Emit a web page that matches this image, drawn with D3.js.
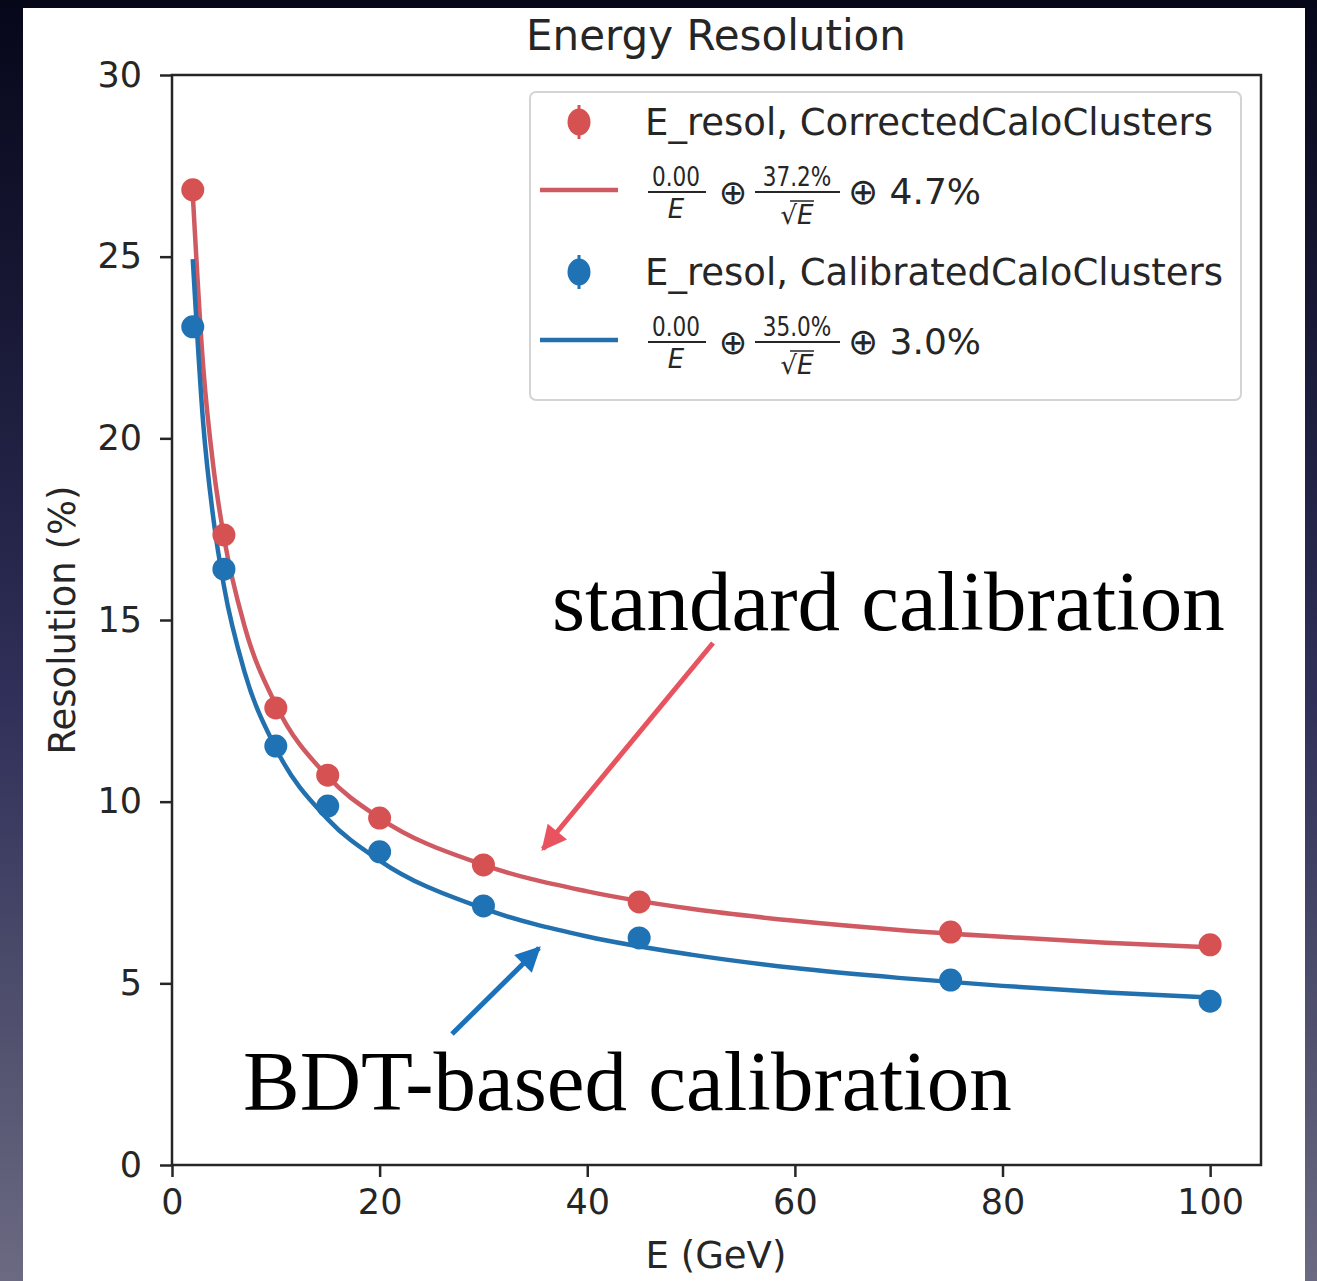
<!DOCTYPE html>
<html><head><meta charset="utf-8">
<script src="https://cdn.jsdelivr.net/npm/d3@7"></script>
<style>
html,body{margin:0;padding:0;}
body{width:1317px;height:1281px;overflow:hidden;background:linear-gradient(180deg,#07071a 0%,#1c1c3c 30%,#30305a 55%,#50506e 80%,#6c6a82 100%);}
svg{position:absolute;left:0;top:0;}
</style></head><body>
<svg id="c" width="1317" height="1281"></svg>
<script>
// ---- data ----
const energies = [2, 5, 10, 15, 20, 30, 45, 75, 100];
const correctedRes = [26.84, 17.34, 12.58, 10.73, 9.55, 8.26, 7.24, 6.41, 6.06];
const calibratedRes = [23.07, 16.40, 11.53, 9.88, 8.62, 7.13, 6.25, 5.09, 4.51];
const fitE = [2, 3, 4, 5, 7, 10, 15, 20, 30, 40, 50, 60, 70, 80, 90, 100];
const correctedFit = [26.72, 21.99, 19.18, 17.29, 14.82, 12.67, 10.69, 9.55, 8.26, 7.53, 7.05, 6.72, 6.47, 6.28, 6.12, 5.99];
const calibratedFit = [24.93, 20.43, 17.76, 15.94, 13.56, 11.47, 9.52, 8.38, 7.06, 6.29, 5.79, 5.42, 5.15, 4.93, 4.75, 4.61];
const xTicks = [0, 20, 40, 60, 80, 100];
const yTicks = [0, 5, 10, 15, 20, 25, 30];
const legendLabels = ["E_resol, CorrectedCaloClusters", "E_resol, CalibratedCaloClusters"];
const fitParams = [{stoch: "37.2%", cst: "4.7%"}, {stoch: "35.0%", cst: "3.0%"}];

const RED = "#d65252", RED_LINE = "#cf5a62", BLUE = "#1f72b4", BLUE_LINE = "#2270ad";
const svg = d3.select("#c");
const sans = "'DejaVu Sans', sans-serif";
const INK = "#262626";

// white panel
svg.append("rect").attr("x", 23).attr("y", 8).attr("width", 1282).attr("height", 1273).attr("fill", "#fff");

const L = 172, R = 1261, T = 75, B = 1165;
const x = d3.scaleLinear().domain([0, 104.9]).range([L, R]);
const y = d3.scaleLinear().domain([0, 30]).range([B, T]);

// curves
const line = d3.line().x(d => x(d[0])).y(d => y(d[1])).curve(d3.curveMonotoneX);
svg.append("path").datum(fitE.map((e, i) => [e, correctedFit[i]])).attr("d", line)
  .attr("fill", "none").attr("stroke", RED_LINE).attr("stroke-width", 4.5);
svg.append("path").datum(fitE.map((e, i) => [e, calibratedFit[i]])).attr("d", line)
  .attr("fill", "none").attr("stroke", BLUE_LINE).attr("stroke-width", 4.5);

// points
svg.append("g").selectAll("circle").data(energies).join("circle")
  .attr("cx", d => x(d)).attr("cy", (d, i) => y(correctedRes[i])).attr("r", 11.5).attr("fill", RED);
svg.append("g").selectAll("circle").data(energies).join("circle")
  .attr("cx", d => x(d)).attr("cy", (d, i) => y(calibratedRes[i])).attr("r", 11.5).attr("fill", BLUE);

// axes frame
svg.append("rect").attr("x", L).attr("y", T).attr("width", R - L).attr("height", B - T)
  .attr("fill", "none").attr("stroke", INK).attr("stroke-width", 2.5);

const xAxis = svg.append("g").attr("transform", `translate(0,${B})`)
  .call(d3.axisBottom(x).tickValues(xTicks).tickSize(12).tickPadding(12));
const yAxis = svg.append("g").attr("transform", `translate(${L},0)`)
  .call(d3.axisLeft(y).tickValues(yTicks).tickSize(12).tickPadding(18));
[xAxis, yAxis].forEach(a => {
  a.select(".domain").remove();
  a.selectAll(".tick line").attr("stroke", INK).attr("stroke-width", 2.5);
  a.selectAll(".tick text").attr("font-family", sans).attr("font-size", 35).attr("fill", INK);
});

// titles
svg.append("text").attr("x", 716).attr("y", 50).attr("text-anchor", "middle")
  .attr("font-family", sans).attr("font-size", 42).attr("fill", INK).text("Energy Resolution");
svg.append("text").attr("x", 716).attr("y", 1268).attr("text-anchor", "middle")
  .attr("font-family", sans).attr("font-size", 37).attr("fill", INK).text("E (GeV)");
svg.append("text").attr("transform", "translate(75,620) rotate(-90)").attr("text-anchor", "middle")
  .attr("font-family", sans).attr("font-size", 37).attr("fill", INK).text("Resolution (%)");

// legend
const lg = svg.append("g");
lg.append("rect").attr("x", 530).attr("y", 92).attr("width", 711).attr("height", 308).attr("rx", 6)
  .attr("fill", "#fff").attr("fill-opacity", 0.85).attr("stroke", "#d4d4d4").attr("stroke-width", 2);
const rowsY = [122, 272];
const colors = [RED, BLUE], lcolors = [RED_LINE, BLUE_LINE];
legendLabels.forEach((lab, i) => {
  const cy = rowsY[i];
  lg.append("line").attr("x1", 579).attr("x2", 579).attr("y1", cy - 17).attr("y2", cy + 17)
    .attr("stroke", colors[i]).attr("stroke-width", 3);
  lg.append("ellipse").attr("cx", 579).attr("cy", cy).attr("rx", 11.5).attr("ry", 13.5).attr("fill", colors[i]);
  lg.append("text").attr("x", 645).attr("y", cy + 13).attr("font-family", sans).attr("font-size", 37)
    .attr("fill", INK).text(lab);
  const fy = cy + 70; // fraction bar y
  lg.append("line").attr("x1", 540).attr("x2", 618).attr("y1", fy - 2).attr("y2", fy - 2)
    .attr("stroke", lcolors[i]).attr("stroke-width", 4.5);
  const ft = lg.append("g").attr("font-family", sans).attr("fill", INK);
  // 0.00 / E
  ft.append("text").attr("x", 676).attr("y", fy - 6).attr("text-anchor", "middle").attr("font-size", 27)
    .attr("transform", `translate(676,${fy - 6}) scale(0.8,1) translate(-676,${-(fy - 6)})`).text("0.00");
  ft.append("line").attr("x1", 648).attr("x2", 706).attr("y1", fy).attr("y2", fy).attr("stroke", INK).attr("stroke-width", 2);
  ft.append("text").attr("x", 676).attr("y", fy + 26).attr("text-anchor", "middle").attr("font-size", 26)
    .attr("font-style", "italic").text("E");
  ft.append("text").attr("x", 733).attr("y", fy + 12).attr("text-anchor", "middle").attr("font-size", 34).text("\u2295");
  // stoch / sqrt(E)
  ft.append("text").attr("x", 797).attr("y", fy - 6).attr("text-anchor", "middle").attr("font-size", 27)
    .attr("transform", `translate(797,${fy - 6}) scale(0.8,1) translate(-797,${-(fy - 6)})`).text(fitParams[i].stoch);
  ft.append("line").attr("x1", 755).attr("x2", 840).attr("y1", fy).attr("y2", fy).attr("stroke", INK).attr("stroke-width", 2);
  ft.append("text").attr("x", 797).attr("y", fy + 32).attr("text-anchor", "middle").attr("font-size", 26)
    .attr("font-style", "italic").text("\u221AE");
  ft.append("line").attr("x1", 790).attr("x2", 814).attr("y1", fy + 9).attr("y2", fy + 9).attr("stroke", INK).attr("stroke-width", 1.5);
  ft.append("text").attr("x", 848).attr("y", fy + 12).attr("font-size", 36).text("\u2295 " + fitParams[i].cst);
});

// annotations
const serif = "'Liberation Serif', 'Times New Roman', serif";
svg.append("text").attr("x", 552).attr("y", 630).attr("font-family", serif).attr("font-size", 85)
  .attr("fill", "#000").text("standard calibration");
svg.append("text").attr("x", 243).attr("y", 1110).attr("font-family", serif).attr("font-size", 85)
  .attr("fill", "#000").text("BDT-based calibration");

const defs = svg.append("defs");
function arrow(id, color) {
  defs.append("marker").attr("id", id).attr("viewBox", "0 0 10 10").attr("refX", 9).attr("refY", 5)
    .attr("markerWidth", 5.5).attr("markerHeight", 5).attr("markerUnits", "strokeWidth").attr("orient", "auto")
    .append("path").attr("d", "M0,0 L10,5 L0,10 z").attr("fill", color);
}
arrow("ar", "#e9525f"); arrow("ab", "#1a72bd");
svg.append("line").attr("x1", 713).attr("y1", 643).attr("x2", 543).attr("y2", 849)
  .attr("stroke", "#e9525f").attr("stroke-width", 5).attr("marker-end", "url(#ar)");
svg.append("line").attr("x1", 452).attr("y1", 1034).attr("x2", 539).attr("y2", 948)
  .attr("stroke", "#1a72bd").attr("stroke-width", 5).attr("marker-end", "url(#ab)");
</script>
</body></html>
